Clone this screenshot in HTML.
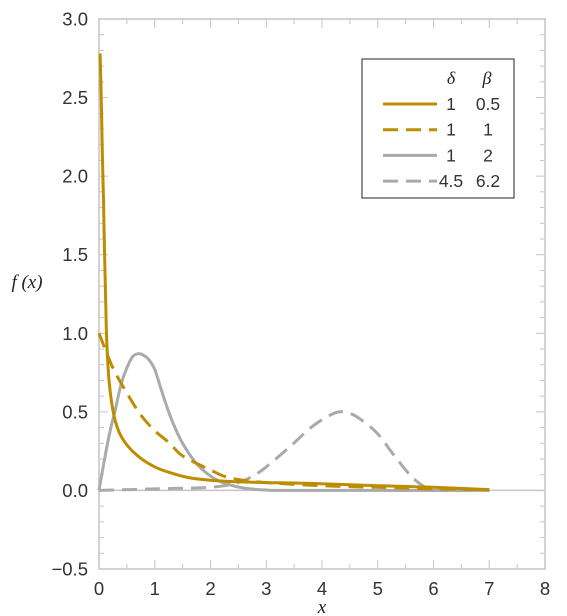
<!DOCTYPE html>
<html><head><meta charset="utf-8"><style>
body{margin:0;background:#fff}
svg{display:block}
text{font-family:"Liberation Sans","DejaVu Sans",sans-serif;fill:#333}
text.serif{font-family:"Liberation Serif",serif;font-style:italic;fill:#222}
</style></head><body>
<svg id="chart" width="567" height="616" xmlns="http://www.w3.org/2000/svg"></svg>
<script>
const s1x=[0.02,0.04,0.06,0.08,0.1,0.12,0.14,0.18,0.25,0.35,0.5,0.73,1,1.3,1.63,2,2.5,3,3.78,5,6,7];
const s1y=[2.78,2.5,2.15,1.85,1.5,1.2,0.94,0.7,0.51,0.38,0.29,0.21,0.15,0.11,0.08,0.065,0.055,0.05,0.045,0.03,0.02,0.005];
const s2x=[0,0.25,0.5,0.75,1,1.27,1.5,2,2.35,3,4,5,6,7];
const s2y=[1.0,0.78,0.62,0.48,0.38,0.30,0.22,0.13,0.08,0.05,0.03,0.02,0.01,0.005];
const s3x=[0,0.1,0.2,0.29,0.4,0.5,0.6,0.7,0.8,0.9,1.0,1.1,1.22,1.35,1.5,1.75,2.05,2.3,2.6,3,3.5,7];
const s3y=[0,0.2,0.38,0.51,0.68,0.78,0.85,0.87,0.86,0.83,0.77,0.66,0.53,0.41,0.30,0.17,0.08,0.04,0.015,0.003,0,0];
const s4x=[0,1,2,2.5,2.8,3,3.4,3.8,4.1,4.3,4.5,4.7,5,5.3,5.6,5.85,6,7];
const s4y=[0,0.01,0.02,0.05,0.1,0.15,0.27,0.4,0.47,0.5,0.49,0.45,0.36,0.22,0.09,0.02,0,0];
const xTicks=[0,1,2,3,4,5,6,7,8];
const yTicks=[-0.5,0,0.5,1,1.5,2,2.5,3];
const yLabels=["\u22120.5","0.0","0.5","1.0","1.5","2.0","2.5","3.0"];
const legendD=["1","1","1","4.5"];
const legendB=["0.5","1","2","6.2"];

const X0=99,X1=545,Y0=569,Y1=19;
const sx=v=>X0+(v-0)/(8-0)*(X1-X0);
const sy=v=>Y0-(v+0.5)/3.5*(Y0-Y1);
const svg=document.getElementById('chart');
const NS='http://www.w3.org/2000/svg';
function mk(t,a,p){const e=document.createElementNS(NS,t);for(const k in a)e.setAttribute(k,a[k]);(p||svg).appendChild(e);return e;}
const GOLD='#bd8d00',GRAY='#aaaaaa',AX='#c4c4c4',DASH='15 8';

const frame=mk('rect',{x:X0,y:Y1,width:X1-X0,height:Y0-Y1,fill:'none',stroke:AX,'stroke-width':1.5});


for(let v=0;v<=8.001;v+=0.5){const x=sx(v),L=(Math.abs(v-Math.round(v))<1e-6)?9:5;
 const t1=mk('line',{x1:x,x2:x,y1:Y0,y2:Y0-L,stroke:AX,'stroke-width':1});
 
 
 const t2=mk('line',{x1:x,x2:x,y1:Y1,y2:Y1+L,stroke:AX,'stroke-width':1});
 
 }
for(let i=-5;i<=30;i++){const v=i/10,y=sy(v),L=(i%5===0)?9:5;
 const t1=mk('line',{x1:X0,x2:X0+L,y1:y,y2:y,stroke:AX,'stroke-width':1});
 
 
 const t2=mk('line',{x1:X1,x2:X1-L,y1:y,y2:y,stroke:AX,'stroke-width':1});
 
 }
const zl=mk('line',{x1:X0,x2:X1,y1:sy(0),y2:sy(0),stroke:AX,'stroke-width':1.5});


xTicks.forEach(v=>{const t=mk('text',{x:sx(v),y:595,'text-anchor':'middle','font-size':18.5});t.textContent=v;
 
 });
yTicks.forEach((v,i)=>{const t=mk('text',{x:88,y:sy(v)+6.5,'text-anchor':'end','font-size':18.5});t.textContent=yLabels[i];
 
 });
const xl=mk('text',{x:322,y:613,'text-anchor':'middle','font-size':19,'class':'serif'});xl.textContent='x';


const yl=mk('text',{x:27,y:288,'text-anchor':'middle','font-size':19,'class':'serif'});yl.textContent='f (x)';



function series(xs,ys,col,dash,name){
 const P=xs.map((v,i)=>[sx(v),sy(ys[i])]);
 let d='M'+P[0][0].toFixed(1)+' '+P[0][1].toFixed(1);
 for(let i=0;i<P.length-1;i++){
  const p0=P[Math.max(0,i-1)],p1=P[i],p2=P[i+1],p3=P[Math.min(P.length-1,i+2)];
  const c1=[p1[0]+(p2[0]-p0[0])/6,p1[1]+(p2[1]-p0[1])/6];
  const c2=[p2[0]-(p3[0]-p1[0])/6,p2[1]-(p3[1]-p1[1])/6];
  d+=' C'+c1.map(n=>n.toFixed(1)).join(' ')+' '+c2.map(n=>n.toFixed(1)).join(' ')+' '+p2[0].toFixed(1)+' '+p2[1].toFixed(1);
 }
 const p=mk('path',{d:d,fill:'none',stroke:col,'stroke-width':3,'stroke-linejoin':'round','stroke-dasharray':dash?DASH:'none'});
 
 
}
series(s4x,s4y,GRAY,true,'series-d4.5-b6.2');
series(s3x,s3y,GRAY,false,'series-d1-b2');
series(s2x,s2y,GOLD,true,'series-d1-b1');
series(s1x,s1y,GOLD,false,'series-d1-b0.5');

const lg=mk('g',{});


mk('rect',{x:362,y:59,width:152,height:139,fill:'#fff',stroke:'#222','stroke-width':1},lg);
const hd=mk('text',{x:451,y:84,'text-anchor':'middle','font-size':18,'class':'serif'},lg);hd.textContent='δ';


const hb=mk('text',{x:487,y:84,'text-anchor':'middle','font-size':18,'class':'serif'},lg);hb.textContent='β';


const cols=[GOLD,GOLD,GRAY,GRAY],dashes=[false,true,false,true];
legendD.forEach((d,i)=>{const y=104+i*25.7;
 const ln=mk('line',{x1:383,x2:437,y1:y,y2:y,stroke:cols[i],'stroke-width':3,'stroke-dasharray':dashes[i]?DASH:'none'},lg);
 
 
 const t1=mk('text',{x:451,y:y+6,'text-anchor':'middle','font-size':17.5},lg);t1.textContent=d;
 
 
 const t2=mk('text',{x:488,y:y+6,'text-anchor':'middle','font-size':17.5},lg);t2.textContent=legendB[i];
 
 
});
</script>
</body></html>
